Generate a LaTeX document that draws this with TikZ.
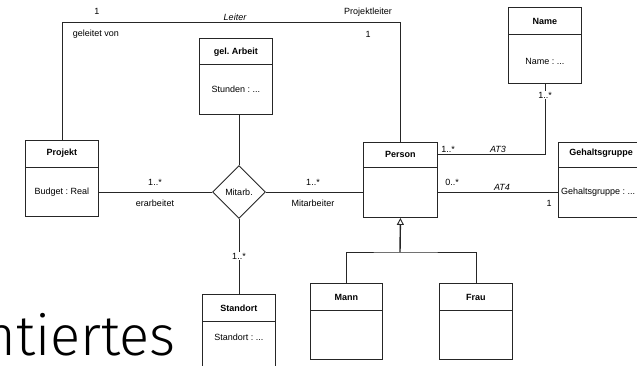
\documentclass[tikz,border=0pt]{standalone}
\usepackage{fontspec}
\setmainfont{Liberation Sans}
\newfontfamily\bigfont{Fira Sans Light}
\usetikzlibrary{shapes.geometric,arrows.meta}
\frenchspacing

\tikzset{
  umlbox/.style={draw=black!85, line width=0.9pt, anchor=north west,
    minimum width=73pt, minimum height=76pt, inner sep=0pt},
  conn/.style={draw=black!85, line width=0.9pt},
  lbl/.style={font=\fontsize{9}{10}\selectfont, inner sep=0.5pt},
  ilbl/.style={lbl, font=\fontsize{9}{10}\selectfont\itshape},
  ttl/.style={font=\fontsize{9}{10}\selectfont\bfseries, inner sep=0pt},
  attr/.style={font=\fontsize{9}{10}\selectfont, inner sep=0pt},
  relation/.style={diamond, draw=black!85, line width=0.9pt, fill=white,
    minimum width=53pt, minimum height=53pt, inner sep=0pt, aspect=1,
    font=\fontsize{9}{10}\selectfont},
}

\begin{document}
\begin{tikzpicture}[x=1pt,y=-1pt]
\useasboundingbox (0,0) rectangle (637,365);
\clip (0,0) rectangle (637,365);

% classes: box, header rule, title, attribute
\node[umlbox] (projekt) at (25,140) {};
\draw[conn] ([yshift=-27pt]projekt.north west) -- ([yshift=-27pt]projekt.north east);
\node[ttl] (projekt-t) at ([yshift=-13pt]projekt.north) {Projekt};
\node[attr] (projekt-a) at ([yshift=-52pt]projekt.north) {Budget : Real};

\node[umlbox] (arbeit) at (199,38) {};
\draw[conn] ([yshift=-26pt]arbeit.north west) -- ([yshift=-26pt]arbeit.north east);
\node[ttl] (arbeit-t) at ([yshift=-14pt]arbeit.north) {gel.\ Arbeit};
\node[attr] (arbeit-a) at ([yshift=-51pt]arbeit.north) {Stunden : ...};

\node[umlbox] (name) at (508,7) {};
\draw[conn] ([yshift=-27pt]name.north west) -- ([yshift=-27pt]name.north east);
\node[ttl] (name-t) at ([yshift=-14pt]name.north) {Name};
\node[attr] (name-a) at ([yshift=-54pt]name.north) {Name : ...};

\node[umlbox, minimum width=74pt, minimum height=75pt] (person) at (363,142) {};
\draw[conn] ([yshift=-25pt]person.north west) -- ([yshift=-25pt]person.north east);
\node[ttl] (person-t) at ([yshift=-12pt]person.north) {Person};

\node[umlbox, minimum width=88pt, minimum height=75pt] (gehalt) at (558,142) {};
\draw[conn] ([yshift=-25pt]gehalt.north west) -- ([yshift=-25pt]gehalt.north east);
\node[ttl] (gehalt-t) at (601,153) {Gehaltsgruppe};
\node[attr, anchor=west] (gehalt-a) at (561,192) {Gehaltsgruppe : ...};

\node[umlbox, minimum width=72pt] (mann) at (310,283) {};
\draw[conn] ([yshift=-27pt]mann.north west) -- ([yshift=-27pt]mann.north east);
\node[ttl] (mann-t) at ([yshift=-14pt]mann.north) {Mann};

\node[umlbox] (frau) at (439,283) {};
\draw[conn] ([yshift=-27pt]frau.north west) -- ([yshift=-27pt]frau.north east);
\node[ttl] (frau-t) at ([yshift=-14pt]frau.north) {Frau};

\node[umlbox] (standort) at (202,294) {};
\draw[conn] ([yshift=-27pt]standort.north west) -- ([yshift=-27pt]standort.north east);
\node[ttl] (standort-t) at ([yshift=-14pt]standort.north) {Standort};
\node[attr] (standort-a) at ([yshift=-43pt]standort.north) {Standort : ...};

% ternary relation
\node[relation] (mitarb) at (239,192) {Mitarb.};

% Leiter association
\draw[conn] (projekt.north) -- ++(0,-118) -| (person.north);
\node[lbl] (l1) at (97,11) {1};
\node[ilbl] (l2) at (235,17) {Leiter};
\node[lbl] (l3) at (368,12) {Projektleiter};
\node[lbl] (l4) at (96,34) {geleitet von};
\node[lbl] (l5) at (368,34) {1};

% relation arms
\draw[conn] (mitarb.west) -- (mitarb.west -| projekt.east);
\draw[conn] (mitarb.east) -- (mitarb.east -| person.west);
\draw[conn] (mitarb.north) -- (mitarb.north |- arbeit.south);
\draw[conn] (mitarb.south) -- (mitarb.south |- standort.north);
\node[lbl] (e1) at (155,182) {1..*};
\node[lbl] (e2) at (155,203) {erarbeitet};
\node[lbl] (m1) at (313,182) {1..*};
\node[lbl] (m2) at (313,203) {Mitarbeiter};
\node[lbl, fill=white] (s1) at (239,256) {1..*};

% AT3
\draw[conn] ([yshift=-12pt]person.north east) -| (name.south);
\node[lbl] (a31) at (448,149) {1..*};
\node[ilbl] (a32) at (498,149) {AT3};
\node[lbl, fill=white] (a33) at (545,95) {1..*};

% AT4
\draw[conn] (person.east |- mitarb.east) -- (gehalt.west |- mitarb.east);
\node[lbl] (a41) at (452,182) {0..*};
\node[ilbl] (a42) at (502,187) {AT4};
\node[lbl] (a43) at (549,203) {1};

% generalization
\coordinate (gen) at (400,252);
\draw[conn, line width=1.4pt, -{Triangle[open, width=7pt, length=7pt, line width=0.9pt]}] (gen) -- (person.south);
\draw[conn] (mann.north) |- (gen) -| (frau.north);

% large text fragment
\node[anchor=base east, font=\bigfont\fontsize{56}{60}\selectfont, inner sep=0pt] (big) at (176,355) {ntiertes};
\end{tikzpicture}
\end{document}
